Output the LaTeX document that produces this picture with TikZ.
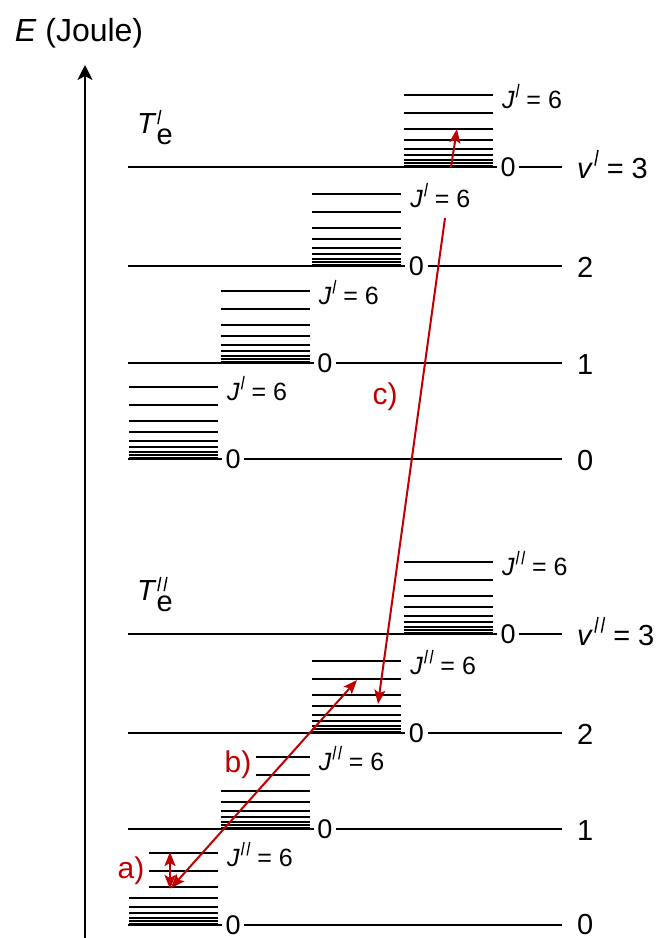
\documentclass[tikz,border=0pt]{standalone}
\usepackage{fontspec}
\setmainfont{Liberation Sans}
\usetikzlibrary{arrows.meta}
\definecolor{trred}{RGB}{192,0,0}
\newcommand\tick[2]{\raisebox{#1}{\rotatebox[origin=c]{-11}{\rule{0.05em}{#2}}}}
\newcommand\mypr{\kern0.04em\tick{0.42em}{0.55em}}
\newcommand\mydpr{\kern0.04em\tick{0.42em}{0.55em}\kern0.07em\tick{0.42em}{0.55em}}
\newcommand\fs[1]{\fontsize{#1}{#1}\selectfont}
\newcommand\ladder[4]{%
  \pgfmathsetmacro\xs{129+91.6*#2}%
  \pgfmathsetmacro\xe{\xs+89}%
  \foreach \h in {1.5,4,7.5,12,18.5,27,38,54,72}{\draw[rotline] (\xs,#3-\h) -- (\xe,#3-\h);}
  \coordinate (#1a#2) at (128,#3);
  \node[zerolab] (#1z#2) at (\xe+4,#3) {0};
  \coordinate (#1b#2) at (562,#3);
  \draw[vibline] (#1a#2) -- (#1z#2.west);
  \draw[vibline] (#1z#2.east) -- (#1b#2);
  \node[jlab] (#1j#2) at (\xe+9,#3-59) {\textit{J}#4{} = 6};
}
\begin{document}
\begin{tikzpicture}[x=1pt,y=-1pt,
  vibline/.style={line width=2.8pt},
  rotline/.style={line width=2pt},
  zerolab/.style={font=\fs{27}, inner xsep=3.5pt, inner ysep=0pt, anchor=west},
  jlab/.style={font=\fs{25}, inner sep=0pt, anchor=base west},
  vlab/.style={font=\fs{29}, inner sep=0pt, anchor=base west},
  tlab/.style={font=\fs{29}, inner sep=0pt, anchor=base west},
  trlab/.style={font=\fs{30}, text=trred, fill=white, inner xsep=5pt, inner ysep=3pt},
  trarrow/.style={draw=trred, line width=2pt, -{Stealth[length=14pt,width=11pt,inset=3pt]}},
  trboth/.style={draw=trred, line width=2pt, {Stealth[length=14pt,width=11pt,inset=3pt]}-{Stealth[length=14pt,width=11pt,inset=3pt]}},
]
\useasboundingbox (0,0) rectangle (657,938);
% energy axis
\coordinate (ax0) at (85,938);
\coordinate (ax1) at (85,65);
\draw[line width=2.4pt, -{Stealth[length=15pt,width=15pt,inset=4pt]}] (ax0) -- (ax1);
\node[font=\fs{32}] (elab) at (79,33) {\textit{E} (Joule)};
% upper electronic state
\ladder{u}{0}{459}{\mypr}
\ladder{u}{1}{363}{\mypr}
\ladder{u}{2}{266}{\mypr}
\ladder{u}{3}{167}{\mypr}
% lower electronic state
\ladder{l}{0}{925}{\mydpr}
\ladder{l}{1}{829}{\mydpr}
\ladder{l}{2}{733}{\mydpr}
\ladder{l}{3}{634}{\mydpr}
% vibrational labels
\node[vlab] (uv0) at (577,470) {0};
\node[vlab] (uv1) at (577,374) {1};
\node[vlab] (uv2) at (577,277) {2};
\node[vlab] (uv3) at (577,178) {\textit{v}\mypr{} = 3};
\node[vlab] (lv0) at (577,934) {0};
\node[vlab] (lv1) at (577,840) {1};
\node[vlab] (lv2) at (577,744) {2};
\node[vlab] (lv3) at (577,645) {\textit{v}\mydpr{} = 3};
% electronic term labels
\node[tlab] (tu) at (137,133) {\textit{T}\rlap{\kern0.02em\tick{0.3em}{0.5em}}\raisebox{-0.38em}{e}};
\node[tlab] (tl) at (137,600) {\textit{T}\rlap{\kern0.02em\tick{0.3em}{0.5em}\kern0.07em\tick{0.3em}{0.5em}}\raisebox{-0.38em}{e}};
% transition labels
\node[trlab, inner ysep=5pt] (la) at (131,871) {a)};
\node[trlab] (lb) at (238,765) {b)};
\node[trlab] (lc) at (385,397) {c)};
% transitions
\coordinate (a1) at (170,889);
\coordinate (a2) at (170,852);
\draw[trboth] (a1) -- (a2);
\coordinate (b1) at (171,888);
\coordinate (b2) at (357,680);
\draw[trboth] (b1) -- (b2);
\coordinate (c1) at (445,218);
\coordinate (c2) at (378,704);
\draw[trarrow] (c1) -- (c2);
\coordinate (d1) at (451,167);
\coordinate (d2) at (457,129);
\draw[trarrow] (d1) -- (d2);
\end{tikzpicture}
\end{document}
